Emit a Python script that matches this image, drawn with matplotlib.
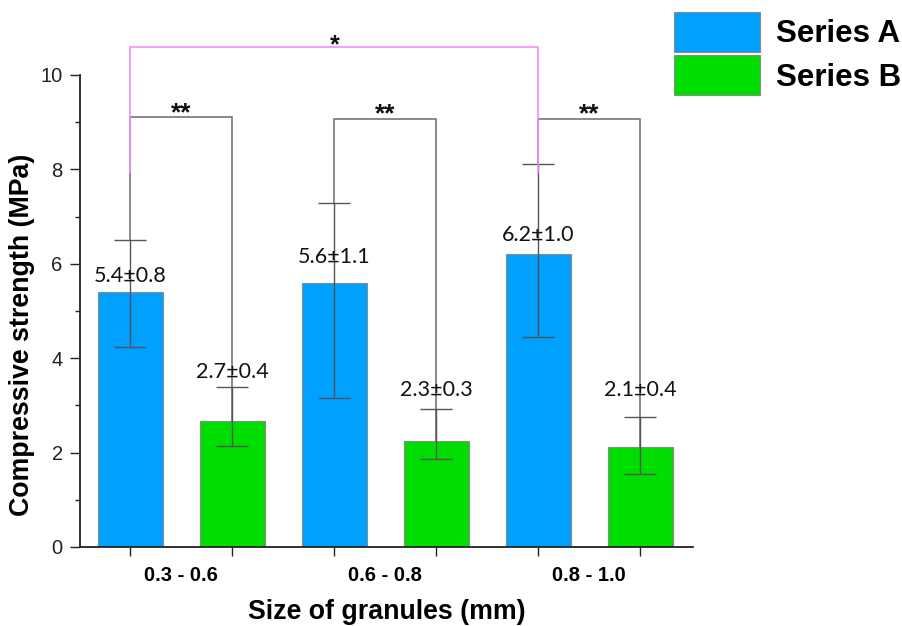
import matplotlib
matplotlib.use("Agg")
import matplotlib.pyplot as plt
import numpy as np

# ---- data ----
groups = ["0.3 - 0.6", "0.6 - 0.8", "0.8 - 1.0"]
series_names = ["Series A", "Series B"]
a_vals = [5.4, 5.6, 6.2]
b_vals = [2.66, 2.25, 2.12]
a_err_low = [4.23, 3.15, 4.45]
a_err_high = [6.51, 7.29, 8.11]
b_err_low = [2.14, 1.86, 1.54]
b_err_high = [3.38, 2.93, 2.76]
a_labels = ["5.4±0.8", "5.6±1.1", "6.2±1.0"]
b_labels = ["2.7±0.4", "2.3±0.3", "2.1±0.4"]
a_label_y = [5.75, 6.15, 6.61]
b_label_y = [3.71, 3.32, 3.32]
pair_bracket_y = [9.10, 9.07, 9.07]
pair_sig = ["**", "**", "**"]
across_bracket_y = 10.59
across_leg_end = 7.95
across_sig = "*"

# ---- style ----
blue = "#00A0FF"
green = "#00DD00"
pink = "#EE90F5"
gray = "#6a6a6a"
W, H = 902, 626
fig = plt.figure(figsize=(W / 100, H / 100), dpi=100)
ax = fig.add_axes([80 / W, 1 - 547 / H, (693 - 80) / W, (547 - 75) / H])

gx = np.arange(len(groups)) * 2.0
xa = gx
xb = gx + 1.0
bw = 0.637

a_vals_np = np.array(a_vals)
b_vals_np = np.array(b_vals)
bars_a = ax.bar(xa, a_vals, bw, color=blue, edgecolor="#8a8a8a", linewidth=0.8, zorder=2, label=series_names[0])
bars_b = ax.bar(xb, b_vals, bw, color=green, edgecolor="#8a8a8a", linewidth=0.8, zorder=2, label=series_names[1])

# pairwise brackets (gray)
for i in range(len(groups)):
    y = pair_bracket_y[i]
    ax.plot([xa[i], xa[i], xb[i], xb[i]], [a_err_high[i], y, y, b_vals[i]],
            color=gray, lw=1.1, zorder=3, clip_on=False, solid_joinstyle="miter")
    ax.annotate(pair_sig[i], xy=((xa[i] + xb[i]) / 2, y), xytext=(0, -2), textcoords="offset points",
                ha="center", va="baseline", fontsize=19, fontweight="bold",
                family="Liberation Sans", color="#111111", annotation_clip=False)

# error bars
cap = 11.5
ax.errorbar(xa, a_vals, yerr=[a_vals_np - np.array(a_err_low), np.array(a_err_high) - a_vals_np],
            fmt="none", ecolor="#555555", elinewidth=1.0, capsize=cap, capthick=1.0, zorder=4)
ax.errorbar(xb, b_vals, yerr=[b_vals_np - np.array(b_err_low), np.array(b_err_high) - b_vals_np],
            fmt="none", ecolor="#555555", elinewidth=1.0, capsize=cap, capthick=1.0, zorder=4)

# across bracket (pink)
ax.plot([xa[0], xa[0], xa[2], xa[2]], [across_leg_end, across_bracket_y, across_bracket_y, across_leg_end],
        color=pink, lw=1.2, zorder=5, clip_on=False)
ax.annotate(across_sig, xy=((xa[0] + xa[2]) / 2, across_bracket_y), xytext=(0, -3.5), textcoords="offset points",
            ha="center", va="baseline", fontsize=18, fontweight="bold",
            family="Liberation Sans", color="#111111", annotation_clip=False)

# value labels
for i in range(len(groups)):
    ax.text(xa[i], a_label_y[i], a_labels[i], ha="center", va="center", fontsize=15.5,
            family="Lato", color="#111111", zorder=6)
    ax.text(xb[i], b_label_y[i], b_labels[i], ha="center", va="center", fontsize=15.5,
            family="Lato", color="#111111", zorder=6)

# axes
ax.set_ylim(0, 10)
ax.set_xlim(-0.493, 5.517)
for s in ["top", "right"]:
    ax.spines[s].set_visible(False)
for s in ["left", "bottom"]:
    ax.spines[s].set_linewidth(1.3)
    ax.spines[s].set_color("#222222")

ax.set_yticks(np.arange(0, 11, 2))
ax.set_yticks(np.arange(1, 10, 2), minor=True)
ax.tick_params(axis="y", which="major", length=7.5, width=1.0, pad=5, labelsize=14.5, colors="#222222")
ax.tick_params(axis="y", which="minor", length=3.6, width=1.0, colors="#222222")
for t in ax.get_yticklabels():
    t.set_family("Liberation Sans")

ax.set_xticks(gx + 0.5)
ax.set_xticklabels(groups)
ax.set_xticks(np.concatenate([xa, xb]), minor=True)
ax.tick_params(axis="x", which="major", length=0, pad=14, labelsize=14.5)
ax.tick_params(axis="x", which="minor", length=6.8, width=1.0, colors="#222222")
for t in ax.get_xticklabels():
    t.set_family("Liberation Sans")
    t.set_fontweight("bold")

ax.set_ylabel("Compressive strength (MPa)", fontsize=19.3, fontweight="bold", family="Liberation Sans")
ax.yaxis.set_label_coords(-0.074, 0.449)
ax.set_xlabel("Size of granules (mm)", fontsize=19.3, fontweight="bold", family="Liberation Sans", labelpad=10)

leg = ax.legend(handles=[bars_a, bars_b], labels=series_names, loc="upper left",
                bbox_to_anchor=(674 / W, 1 - 12 / H), bbox_transform=fig.transFigure,
                frameon=False, borderpad=0, borderaxespad=0, handlelength=2.75, handleheight=1.58,
                labelspacing=0.12, handletextpad=0.5,
                prop={"family": "Liberation Sans", "weight": "bold", "size": 22.5})

fig.savefig("out.png", dpi=100)
